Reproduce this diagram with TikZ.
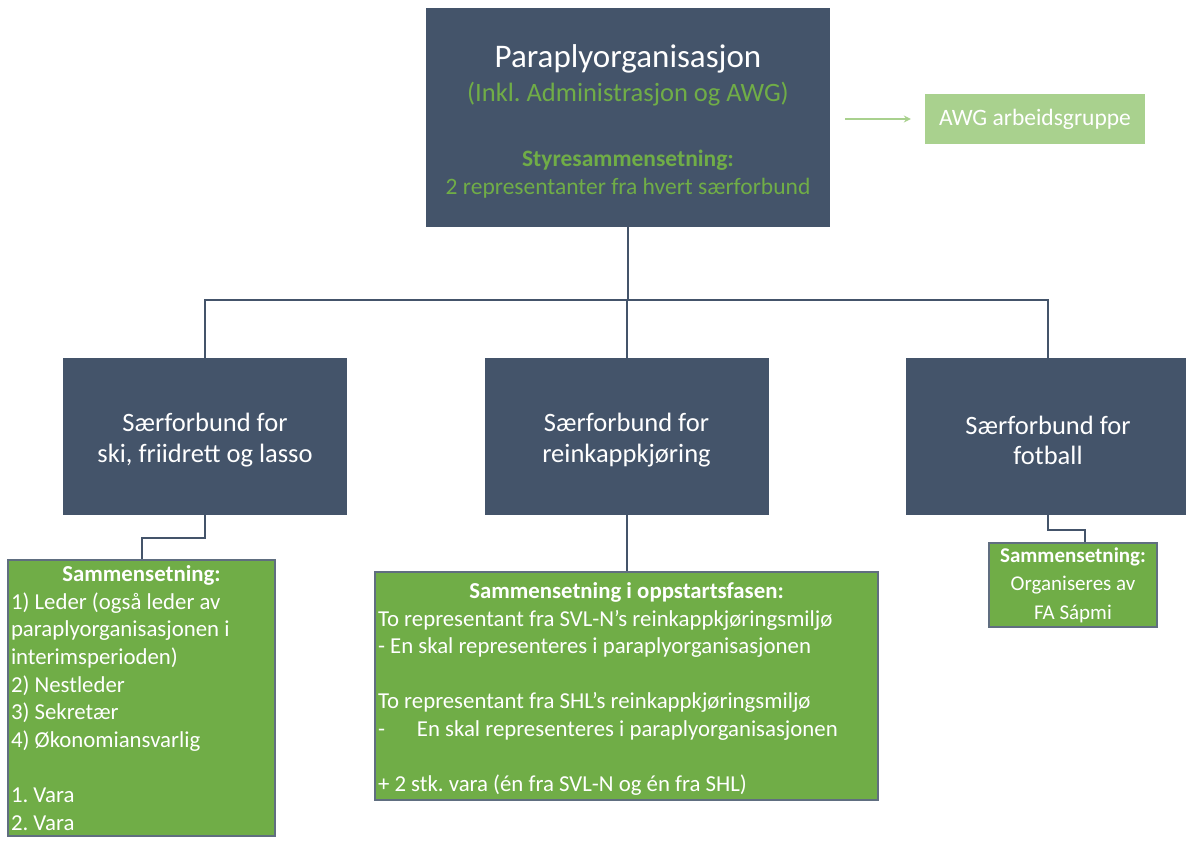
\documentclass[tikz,border=0pt]{standalone}
\usepackage{fontspec}
\setmainfont{Carlito}
\usetikzlibrary{arrows.meta,calc}

\definecolor{mork}{HTML}{44546A}
\definecolor{gronn}{HTML}{70AD47}
\definecolor{lysgronn}{HTML}{A9D18E}

\frenchspacing
\lineskiplimit=-100pt

\newcommand{\toppluft}[1]{\rule{0pt}{#1}}

\tikzset{
    blaboks/.style={fill=mork, text=white, minimum width=284pt, minimum height=157pt,
        align=flush center, font=\fontsize{26.5}{30.5}\selectfont},
    gronnboks/.style={fill=gronn, draw=mork!85, line width=1.2pt, text=white,
        align=flush left, inner xsep=3pt, inner ysep=1pt, font=\fontsize{22.8}{27.6}\selectfont},
    linje/.style={draw=mork, line width=2pt},
}

\begin{document}
\begin{tikzpicture}[x=1pt,y=-1pt]
    \useasboundingbox (0,0) rectangle (1186,841);

    % Paraplyorganisasjon
    \node[fill=mork, text=gronn, text width=398pt, inner xsep=3pt, minimum height=219pt,
        align=flush center, font=\fontsize{23.5}{28}\selectfont] (paraply) at (628,117.5)
        {{\fontsize{33}{28}\selectfont\color{white}\toppluft{31pt}Paraplyorganisasjon}\\[6pt]
         {\fontsize{26.5}{28}\selectfont(Inkl. Administrasjon og AWG)}\\[37pt]
         \textbf{Styresammensetning:}\\
         2 representanter fra hvert særforbund};

    % AWG
    \node[fill=lysgronn, text=white, minimum width=220pt, minimum height=50pt,
        font=\fontsize{23.5}{28}\selectfont] (awg) at (1035,119) {AWG arbeidsgruppe};
    \coordinate (awgfra) at (845,119);
    \draw[draw=lysgronn, line width=1.5pt, -{Stealth[length=7pt,width=7pt]}] (awgfra) -- ([xshift=-14pt]awg.west);

    % Særforbund
    \node[blaboks] (ski) at (205,436.5) {\toppluft{26pt}Særforbund for\\ski, friidrett og lasso};
    \node[blaboks] (rein) at (626.5,436.5) {\toppluft{26pt}Særforbund for\\reinkappkjøring};
    \node[blaboks] (fotball) at (1048,436.5) {\toppluft{26pt}Særforbund for\\fotball};

    % Sammensetning
    \node[gronnboks, text width=261pt, minimum height=276pt] (skisam) at (141.5,698)
        {\makebox[\linewidth]{\textbf{Sammensetning:}}\\
         1) Leder (også leder av\\
         paraplyorganisasjonen i\\
         interimsperioden)\\
         2) Nestleder\\
         3) Sekretær\\
         4) Økonomiansvarlig\\[27.6pt]
         1. Vara\\
         2. Vara};
    \node[gronnboks, text width=497pt, minimum height=228pt] (reinsam) at (626.5,686)
        {\toppluft{22pt}\makebox[\linewidth]{\textbf{Sammensetning i oppstartsfasen:}}\\
         To representant fra SVL-N’s reinkappkjøringsmiljø\\
         - En skal representeres i paraplyorganisasjonen\\[27.6pt]
         To representant fra SHL’s reinkappkjøringsmiljø\\
         -\hspace{1.4em}En skal representeres i paraplyorganisasjonen\\[27.6pt]
         + 2 stk. vara (én fra SVL-N og én fra SHL)};
    \node[gronnboks, align=flush center, inner sep=4pt, minimum width=168pt, minimum height=84pt,
        font=\fontsize{21}{28.5}\selectfont] (fotballsam) at (1073,585)
        {\textbf{Sammensetning:}\\Organiseres av\\FA Sápmi};

    % Linjer
    \coordinate (skinne) at (628,300);
    \draw[linje] (paraply.south) -- (skinne);
    \draw[linje] (ski.north) |- (skinne) -| (fotball.north);
    \draw[linje] (rein.north) -- (rein.north |- skinne);
    \draw[linje] (ski.south) -- ++(0,23) -| (skisam.north);
    \draw[linje] (rein.south) -- (rein.south |- reinsam.north);
    \draw[linje] (fotball.south) -- ++(0,15) -| ([xshift=12pt]fotballsam.north);
\end{tikzpicture}
\end{document}
